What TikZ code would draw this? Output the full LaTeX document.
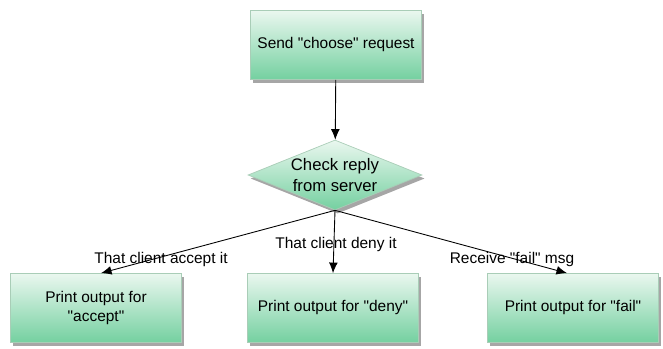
\documentclass[tikz,border=0pt]{standalone}
\usepackage{fontspec}
\setmainfont{Liberation Sans}
\usepackage{tikz}
\usetikzlibrary{shapes.geometric,shadows,arrows.meta}

\definecolor{mintlight}{HTML}{EAF7EF}
\definecolor{mintdark}{HTML}{74D0A0}
\definecolor{mintline}{HTML}{A9CDB7}

\begin{document}
\begin{tikzpicture}[font=\fontsize{8.8}{10.5}\selectfont,
    box_node/.style={rectangle,draw=mintline,line width=0.4pt,top color=mintlight,bottom color=mintdark,
        minimum width=3.42cm,minimum height=1.38cm,align=center,inner sep=2pt,
        drop shadow={shadow xshift=1.5pt,shadow yshift=-2pt,opacity=0.35,fill=black}},
    decision_node/.style={diamond,aspect=2.5,draw=mintline,line width=0.4pt,top color=mintlight,bottom color=mintdark,
        minimum width=3.48cm,minimum height=1.4cm,inner sep=0pt,align=center,
        font=\fontsize{9.5}{11.5}\selectfont,
        drop shadow={shadow xshift=1.5pt,shadow yshift=-2pt,opacity=0.35,fill=black}},
    link/.style={-{Latex[length=6pt,width=5pt]},line width=0.5pt}]
    \useasboundingbox (0,0) rectangle (13.26,6.96);
    \node[box_node] (1) at (6.72, 6.06) {Send \textquotedbl choose\textquotedbl\ request};
    \node[decision_node] (2) at (6.70, 3.46) {Check reply\\from server};
    \node[box_node] (3) at (1.92, 0.80) {Print output for\\\textquotedbl accept\textquotedbl};
    \node[box_node] (4) at (6.66, 0.80) {Print output for \textquotedbl deny\textquotedbl};
    \node[box_node] (5) at (11.46, 0.80) {Print output for \textquotedbl fail\textquotedbl};
    \draw[link] (1) -- (2);
    \draw[link] (2.south) -- ([xshift=0.1cm]3.north);
    \draw[link] (2.south) -- (4.north);
    \draw[link] (2.south) -- ([xshift=-0.12cm]5.north);
    \node (l1) at (3.22, 1.77) {That client accept it};
    \node (l2) at (6.72, 2.07) {That client deny it};
    \node (l3) at (10.24, 1.77) {Receive \textquotedbl fail\textquotedbl\ msg};
\end{tikzpicture}
\end{document}
